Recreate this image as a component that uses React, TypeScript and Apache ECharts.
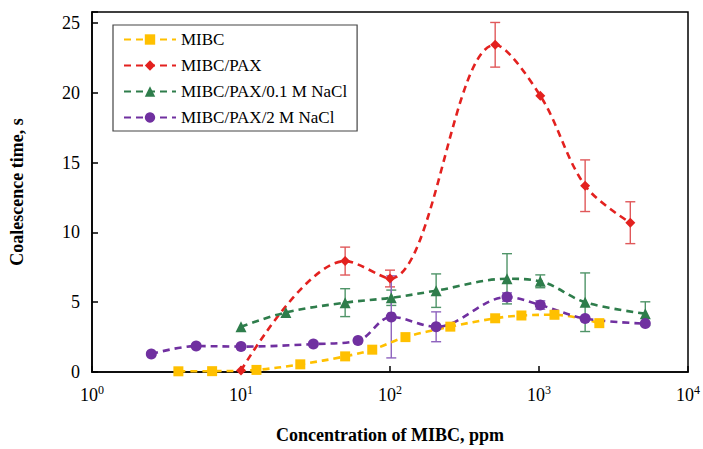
import React, { useEffect, useRef } from "react";
import * as echarts from "echarts";

// MIBC alone
const mibcX = [3.8, 6.4, 12.7, 25, 50, 76, 127, 254, 508, 762, 1270, 2540];
const mibcY = [0.05, 0.06, 0.15, 0.55, 1.12, 1.6, 2.5, 3.25, 3.85, 4.05, 4.1, 3.5];

// MIBC with PAX
const paxX = [10, 50, 100, 508, 1020, 2040, 4100];
const paxY = [0.1, 7.95, 6.7, 23.45, 19.8, 13.35, 10.7];
const paxErr = [0, 1.0, 0.6, 1.6, 0, 1.85, 1.5];

// MIBC with PAX in 0.1 M NaCl
const nacl01X = [10, 20, 50, 102, 204, 610, 1020, 2040, 5170];
const nacl01Y = [3.24, 4.27, 4.97, 5.32, 5.83, 6.68, 6.5, 5.0, 4.18];
const nacl01Err = [0, 0, 1.0, 0.55, 1.2, 1.8, 0.46, 2.1, 0.85];

// MIBC with PAX in 2 M NaCl
const nacl2X = [2.5, 5, 10, 30.6, 61, 102, 204, 610, 1020, 2040, 5170];
const nacl2Y = [1.29, 1.86, 1.82, 2.0, 2.25, 3.95, 3.24, 5.37, 4.8, 3.83, 3.47];
const nacl2Err = [0, 0, 0, 0, 0, 2.94, 1.07, 0.3, 0.3, 0, 0];

const seriesNames = ["MIBC", "MIBC/PAX", "MIBC/PAX/0.1 M NaCl", "MIBC/PAX/2 M NaCl"];
const yTicks = [0, 5, 10, 15, 20, 25];

const SERIF = "Liberation Serif, Times New Roman, serif";

const pairs = (xs: number[], ys: number[]) => xs.map((x, i) => [x, ys[i]]);
const errRows = (xs: number[], ys: number[], es: number[]) =>
  xs
    .map((x, i) => [x, ys[i] - es[i], ys[i] + es[i], es[i]])
    .filter((r) => r[3] > 0)
    .map((r) => [r[0], r[1], r[2]]);

// vertical error bar with caps
const errRender = (color: string) => (_params: any, api: any) => {
  const x = api.value(0);
  const lo = api.coord([x, api.value(1)]);
  const hi = api.coord([x, api.value(2)]);
  const w = 5;
  const style = { stroke: color, lineWidth: 1.4 };
  return {
    type: "group",
    children: [
      { type: "line", shape: { x1: lo[0], y1: lo[1], x2: hi[0], y2: hi[1] }, style },
      { type: "line", shape: { x1: lo[0] - w, y1: lo[1], x2: lo[0] + w, y2: lo[1] }, style },
      { type: "line", shape: { x1: hi[0] - w, y1: hi[1], x2: hi[0] + w, y2: hi[1] }, style },
    ],
  };
};

const lineSeries = (
  name: string,
  data: number[][],
  color: string,
  symbol: string,
  symbolSize: number
) => ({
  name,
  type: "line",
  data,
  smooth: 0.35,
  symbol,
  symbolSize,
  showAllSymbol: true,
  z: 3,
  itemStyle: { color },
  lineStyle: { color, width: 2.6, type: [7, 5] },
});

const errSeries = (name: string, data: number[][], color: string) => ({
  name,
  type: "custom",
  data,
  encode: { x: 0, y: [1, 2] },
  renderItem: errRender(color),
  z: 2,
  silent: true,
});

export default function App() {
  const ref = useRef<HTMLDivElement>(null);

  useEffect(() => {
    if (!ref.current) return;
    const chart = echarts.init(ref.current, undefined, { renderer: "svg" });
    chart.setOption({
      animation: false,
      backgroundColor: "#fff",
      textStyle: { fontFamily: SERIF },
      grid: {
        left: 86,
        right: 5,
        top: 12,
        bottom: 61,
        show: true,
        borderColor: "#000",
        borderWidth: 1.5,
        containLabel: false,
      },
      legend: {
        data: seriesNames,
        orient: "vertical",
        left: 113,
        top: 25,
        itemWidth: 52,
        itemHeight: 13,
        itemGap: 9,
        padding: [6, 10, 5, 10],
        borderColor: "#444",
        borderWidth: 1.2,
        backgroundColor: "#fff",
        textStyle: { fontFamily: SERIF, fontSize: 17, color: "#000" },
      },
      xAxis: {
        type: "log",
        logBase: 10,
        min: 1,
        max: 10000,
        name: "Concentration of MIBC, ppm",
        nameLocation: "middle",
        nameGap: 54,
        nameTextStyle: { fontFamily: SERIF, fontSize: 18, fontWeight: "bold", color: "#000" },
        axisLine: { lineStyle: { color: "#000", width: 1.6 } },
        axisTick: { inside: true, length: 6, lineStyle: { color: "#000", width: 1.5 } },
        minorTick: { show: false },
        splitLine: { show: false },
        axisLabel: {
          margin: 12,
          color: "#000",
          fontFamily: SERIF,
          formatter: (v: number) => `{b|10}{s|${Math.round(Math.log10(v))}}`,
          rich: {
            b: { fontFamily: SERIF, fontSize: 18, color: "#000", lineHeight: 22 },
            s: { fontFamily: SERIF, fontSize: 12, color: "#000", verticalAlign: "top", lineHeight: 14 },
          },
        },
      },
      yAxis: {
        type: "value",
        min: 0,
        max: 25.8,
        interval: 5,
        name: "Coalescence time, s",
        nameLocation: "middle",
        nameGap: 66,
        nameTextStyle: { fontFamily: SERIF, fontSize: 18, fontWeight: "bold", color: "#000" },
        axisLine: { show: true, lineStyle: { color: "#000", width: 1.6 } },
        axisTick: { show: true, inside: true, length: 6, lineStyle: { color: "#000", width: 1.5 } },
        splitLine: { show: false },
        axisLabel: {
          margin: 12,
          fontFamily: SERIF,
          fontSize: 18,
          color: "#000",
          formatter: (v: number) => (yTicks.includes(v) ? String(v) : ""),
        },
      },
      series: [
        errSeries("err-pax", errRows(paxX, paxY, paxErr), "#e0585a"),
        errSeries("err-nacl01", errRows(nacl01X, nacl01Y, nacl01Err), "#4f9468"),
        errSeries("err-nacl2", errRows(nacl2X, nacl2Y, nacl2Err), "#8e63be"),
        lineSeries(seriesNames[0], pairs(mibcX, mibcY), "#FFC000", "rect", 10),
        lineSeries(seriesNames[1], pairs(paxX, paxY), "#E3211F", "diamond", 10),
        lineSeries(seriesNames[2], pairs(nacl01X, nacl01Y), "#2E7D4B", "triangle", 11),
        lineSeries(seriesNames[3], pairs(nacl2X, nacl2Y), "#7030A0", "circle", 11),
      ],
    });
    return () => chart.dispose();
  }, []);

  return (
    <div
      ref={ref}
      style={{ position: "fixed", left: 0, top: 0, width: 703, height: 449 }}
    />
  );
}
